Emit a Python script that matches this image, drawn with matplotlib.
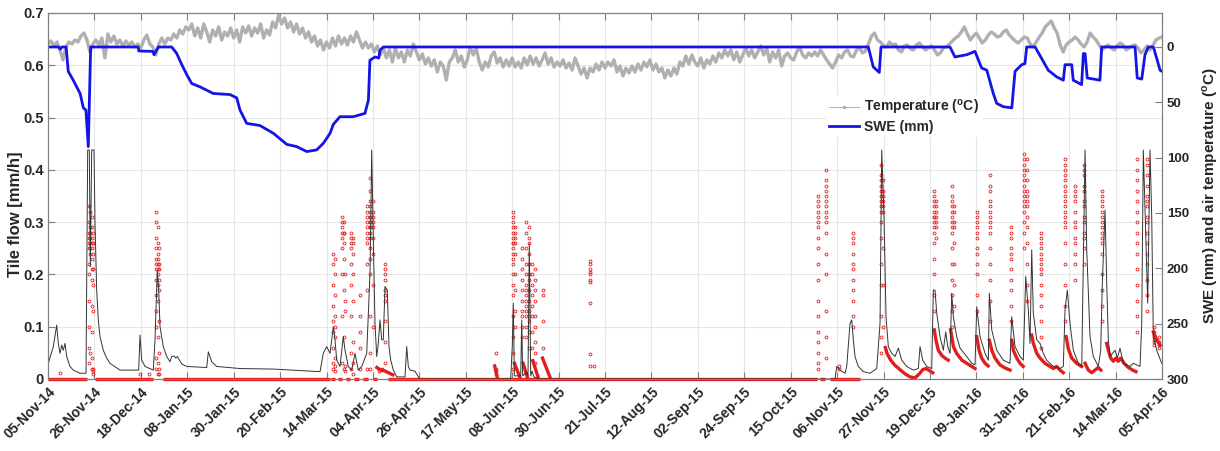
import numpy as np
import matplotlib
matplotlib.use("Agg")
import matplotlib.pyplot as plt
import matplotlib.transforms as mtransforms
from matplotlib.lines import Line2D

plt.rcParams["font.family"] = ["Liberation Sans", "DejaVu Sans"]
plt.rcParams["font.weight"] = "bold"
plt.rcParams["mathtext.fontset"] = "custom"
plt.rcParams["mathtext.rm"] = "Liberation Sans:bold"
plt.rcParams["mathtext.bf"] = "Liberation Sans:bold"

# x axis in days counted from 05-Nov-2014, last day 05-Apr-2016
n_days = 517
tick_labels = ["05-Nov-14", "26-Nov-14", "18-Dec-14", "08-Jan-15", "30-Jan-15",
               "20-Feb-15", "14-Mar-15", "04-Apr-15", "26-Apr-15", "17-May-15",
               "08-Jun-15", "30-Jun-15", "21-Jul-15", "12-Aug-15", "02-Sep-15",
               "24-Sep-15", "15-Oct-15", "06-Nov-15", "27-Nov-15", "19-Dec-15",
               "09-Jan-16", "31-Jan-16", "21-Feb-16", "14-Mar-16", "05-Apr-16"]

# air temperature (deg C), regular samples over the whole record
temp_c = [-2.7, -5.4, -0.9, -4.5, 2.7, 11.7, 0, -4.5, -2.7, -6.3, -4.5, -9.9, -12.6, -6.3, 4.5,
          -2.7, -6.3, -1.8, -8.1, 9.9, -11.7, -4.5, -9.9, -2.7, -6.3, -0.9, -5.4, -1.8, -4.5, 0,
          -2.7, 0.9, -6.3, -10.8, -2.7, 0, 7.2, -2.7, -8.1, -2.7, -8.1, -6.3, -11.7, -8.1, -15.4,
          -11.7, -18.1, -15.4, -20.8, -9.9, -17.2, -8.1, -20.8, -13.6, -4.5, -15.4, -9.9, -18.1,
          -6.3, -13.6, -9.9, -17.2, -8.1, -15.4, -4.5, -18.1, -12.6, -19.0, -9.9, -17.2, -12.6,
          -20.8, -8.1, -15.4, -10.8, -22.6, -17.2, -28.9, -20.8, -26.2, -17.2, -22.6, -13.6, -20.8,
          -11.7, -17.2, -8.1, -13.6, -4.5, -9.9, -0.9, -6.3, 2.7, -4.5, 0.9, -8.1, -0.9, -9.9, -2.7,
          -8.1, -1.8, -9.9, -4.5, -13.6, -6.3, 0.9, -4.5, 0.9, -2.7, 4.5, -0.9, 7.2, 0.9, 9.9, 2.7,
          13.6, 0.9, 9.9, 4.5, 13.6, 2.7, 8.1, -2.7, 4.5, 11.7, 6.3, 15.4, 9.9, 17.2, 11.7, 22.6, 13.6,
          17.2, 29.8, 13.6, 9.9, 2.7, 13.6, 8.1, 18.1, 11.7, 0, 7.2, 0.9, 13.6, 20.8, 13.6, 18.1, 8.1,
          4.5, 14.5, 9.9, 18.1, 11.7, 17.2, 9.9, 18.1, 13.6, 19.0, 9.9, 16.3, 8.1, 15.4, 9.9, 17.2,
          11.7, 5.4, 15.4, 9.9, 18.1, 13.6, 17.2, 11.7, 19.0, 14.5, 20.8, 9.9, 17.2, 24.4, 19.0, 28.0,
          19.0, 22.6, 15.4, 20.8, 13.6, 19.0, 13.6, 17.2, 11.7, 22.6, 17.2, 26.2, 19.0, 23.5, 17.2,
          22.6, 15.4, 20.8, 13.6, 18.1, 11.7, 20.8, 15.4, 22.6, 19.0, 28.0, 20.8, 26.2, 19.0, 24.4,
          13.6, 17.2, 8.1, 15.4, 7.2, 13.6, 17.2, 9.9, 19.0, 11.7, 15.4, 8.1, 13.6, 5.4, 9.9, 2.7, 8.1,
          2.7, 11.7, 4.5, 13.6, 7.2, 0.9, 8.1, 2.7, 9.9, 4.5, -0.9, 7.2, 0.9, 13.6, 4.5, 9.9, 2.7,
          17.2, 8.1, 5.4, 9.9, 11.7, 4.5, 0, 7.2, 9.9, 5.4, 8.1, 4.5, 8.1, 2.7, 7.2, 11.7, 15.4, 19.0,
          13.6, 7.2, 9.9, 4.5, 2.7, 8.1, 9.0, 2.7, 0.9, 5.4, 3.6, -2.7, -9.9, -12.6, -6.3, -4.5, -0.9,
          0, -4.5, -1.8, -2.7, 2.7, 4.5, -0.9, -1.8, 1.8, 2.7, -1.8, -3.6, 0, 2.7, 0.9, -0.9, 2.7, 7.2,
          5.4, 0.9, 0, -2.7, -5.4, -8.1, -9.9, -13.6, -18.1, -11.7, -6.3, -9.9, -12.6, -8.1, -3.6,
          -6.3, -10.8, -13.6, -11.7, -9.0, -9.9, -13.6, -15.4, -10.8, -8.1, -5.4, -3.6, -6.3, -9.0,
          -8.1, -2.7, 0, -4.5, -9.0, -12.6, -18.1, -20.8, -23.5, -17.2, -12.6, -1.8, 4.5, -1.8, -4.5,
          -6.3, -9.0, -6.3, -2.7, 0, -4.5, -12.6, -9.0, -6.3, -1.8, 2.7, 0, -1.8, 0.9, 2.7, -0.9, -3.6,
          -1.8, 2.7, 0.9, -0.9, -1.8, 0.9, 5.4, 2.7, -0.9, 2.7, -1.8, -6.3, -8.1, -9.0]

# snow water equivalent (mm)
swe_day = [0, 5, 5.6, 6.5, 8.4, 9.4, 11.7, 14.9, 16.4, 17.6, 18.7, 19.8, 41.9, 42.1, 48.7, 49.2,
           51.2, 57.4, 59.7, 62.1, 64.4, 66.7, 70.5, 76.7, 84.5, 87.6, 89.1, 92.2, 98.4, 104.6,
           110.8, 115.4, 120.1, 124.7, 127.8, 130.9, 132.4, 135.5, 141.7, 147.1, 148.7, 149.4,
           151.8, 153.5, 154.1, 155.6, 380.7, 383.0, 385.8, 386.6, 418.6, 420.9, 426.4, 430.2,
           433.3, 435.7, 438.7, 440.3, 443.4, 447.3, 448.8, 451.9, 453.4, 454.2, 458.1, 461.9,
           464.2, 468.1, 471.2, 472.0, 475.1, 475.8, 479.7, 480.5, 481.3, 482.3, 488.2, 489.0,
           504.5, 505.5, 507.6, 509.1, 510.7, 513.0, 514.5, 516.1, 517]
swe_mm = [0, 0, 2, 0, 0, 22, 30, 42, 55, 57, 90, 0, 0, 3.6, 4, 7,
          0, 0, 5.7, 16, 25, 33, 36, 42, 43, 46, 57, 69, 71, 78,
          88, 90, 94.5, 93, 87, 78, 70, 63, 63, 60, 48, 12,
          9, 10, 3, 0, 0, 18, 23, 0, 0, 9, 7, 4,
          19, 21, 42, 51, 54, 55, 22, 16, 15, 0, 0, 13,
          21, 27, 30, 16, 16, 30, 34, 6, 6, 28, 30, 0,
          0, 28, 29, 7, 0, 0, 10, 21, 22]

# tile flow, black line (mm/h)
flow_day = [0.14, 2.46, 4.04, 4.78, 5.57, 6.36, 7.10, 7.89, 8.68, 10.21, 11.74, 14.85, 17.64,
            18.42, 19.17, 19.63, 20.28, 21.35, 21.81, 22.60, 23.34, 24.13, 25.66, 27.24, 28.77,
            33.42, 42.09, 42.70, 43.49, 45.02, 48.87, 49.66, 50.73, 51.38, 51.98, 53.51, 55.09,
            56.62, 57.41, 58.48, 59.27, 60.01, 62.05, 64.37, 73.65, 74.40, 75.97, 78.29, 89.11,
            104.56, 126.24, 127.77, 129.35, 130.88, 132.41, 133.20, 133.99, 135.52, 137.05,
            137.84, 139.37, 140.95, 142.48, 144.01, 145.59, 147.91, 149.44, 150.23, 150.97,
            151.76, 152.55, 153.29, 154.08, 154.87, 155.61, 156.40, 157.47, 158.26, 159.05,
            160.26, 161.83, 163.36, 165.68, 166.47, 167.22, 168.00, 170.32, 171.86, 172.65,
            214.74, 215.49, 215.95, 216.41, 219.38, 219.85, 220.31, 222.17, 222.77, 223.37,
            224.02, 224.62, 225.55, 228.34, 365.25, 366.04, 367.57, 369.89, 370.68, 372.21,
            373.00, 373.74, 374.53, 376.06, 378.38, 381.49, 384.60, 386.14, 386.92, 387.99,
            388.92, 389.99, 391.57, 393.10, 394.63, 396.21, 398.53, 401.59, 403.91, 404.70,
            405.95, 407.81, 410.13, 410.87, 411.66, 412.45, 413.98, 415.51, 416.63, 417.56,
            418.63, 419.42, 420.16, 421.74, 423.27, 426.38, 428.70, 430.23, 431.02, 432.55,
            434.87, 436.40, 436.87, 437.98, 440.30, 443.36, 446.46, 447.25, 448.79, 451.11,
            452.64, 453.75, 454.96, 455.75, 456.54, 457.28, 458.86, 460.39, 461.92, 463.50,
            466.56, 469.67, 471.20, 471.99, 473.06, 474.31, 475.85, 478.17, 479.75, 481.28,
            482.07, 483.59, 485.13, 487.45, 488.56, 489.31, 490.56, 491.35, 492.09, 492.88,
            495.20, 496.27, 497.52, 499.05, 502.16, 503.69, 506.80, 507.59, 508.33, 510.37,
            511.44, 512.23, 512.97, 514.55, 516.87]
flow_val = [0.030, 0.062, 0.103, 0.068, 0.049, 0.065, 0.055, 0.068, 0.043, 0.024, 0.017, 0.011, 0.011,
            0.438, 0.438, 0.215, 0.438, 0.438, 0.298, 0.170, 0.113, 0.081, 0.055, 0.040, 0.030,
            0.017, 0.017, 0.084, 0.036, 0.024, 0.017, 0.075, 0.208, 0.170, 0.100, 0.062, 0.043,
            0.033, 0.043, 0.044, 0.040, 0.043, 0.029, 0.024, 0.022, 0.052, 0.033, 0.024, 0.020,
            0.019, 0.014, 0.049, 0.062, 0.049, 0.100, 0.075, 0.036, 0.024, 0.081,
            0.055, 0.024, 0.017, 0.049, 0.017, 0.024, 0.049, 0.202, 0.438, 0.266,
            0.106, 0.043, 0.068, 0.113, 0.075, 0.075, 0.177, 0.170, 0.062, 0.036,
            0.017, 0.004, 0.004, 0.004, 0.062, 0.024, 0.017, 0.015, 0.004, 0.0,
            0.0, 0.065, 0.145, 0.006, 0.006, 0.113, 0.006, 0.013, 0.006, 0.259,
            0.006, 0.015, 0.004, 0.0, 0.0, 0.024, 0.017, 0.011, 0.024, 0.106,
            0.113, 0.075, 0.043, 0.024, 0.014, 0.011, 0.020, 0.106, 0.438, 0.310,
            0.119, 0.062, 0.049, 0.043, 0.059, 0.036, 0.024, 0.017, 0.020, 0.062,
            0.036, 0.024, 0.020, 0.170, 0.170, 0.126, 0.081, 0.055, 0.090, 0.062,
            0.049, 0.164, 0.119, 0.081, 0.059, 0.043, 0.030, 0.027, 0.138, 0.081,
            0.049, 0.036, 0.164, 0.094, 0.055, 0.036, 0.030, 0.119, 0.062, 0.043,
            0.036, 0.196, 0.132, 0.068, 0.247, 0.126, 0.075, 0.068, 0.049, 0.036,
            0.024, 0.020, 0.024, 0.132, 0.170, 0.106, 0.055, 0.030, 0.024, 0.438,
            0.247, 0.081, 0.043, 0.024, 0.055, 0.183, 0.323, 0.183, 0.075, 0.043,
            0.055, 0.040, 0.059, 0.030, 0.024, 0.030, 0.024, 0.106, 0.438, 0.145,
            0.438, 0.310, 0.081, 0.055, 0.030]

# red points: stretches lying on zero, vertical clusters, recession tails
red_zero = [(0, 18.0), (21.8, 48.9), (53.4, 130.9), (131.5, 133.0), (134.5, 136.3),
            (138.3, 140.3), (142.2, 144.4), (146.2, 148.4), (151.0, 152.6), (157.8, 356.7),
            (358.3, 360.7), (362.9, 376.7)]
red_columns = [
    (5.6, [0.012]),
    (18.8, [0.33, 0.30, 0.28, 0.27, 0.26, 0.25, 0.22, 0.20, 0.15, 0.10, 0.06, 0.03]),
    (19.5, [0.32, 0.29, 0.28, 0.27, 0.26, 0.25, 0.24, 0.05]),
    (20.3, [0.31, 0.29, 0.27, 0.26, 0.25, 0.23, 0.21, 0.19, 0.14, 0.09, 0.04, 0.02]),
    (21.0, [0.28, 0.26, 0.24, 0.21, 0.18, 0.13, 0.02, 0.015, 0.01]),
    (42.7, [0.01]),
    (47.0, [0.01]),
    (50.2, [0.32, 0.30, 0.27, 0.25, 0.23, 0.22, 0.21, 0.19, 0.16, 0.13, 0.10, 0.04, 0.02]),
    (50.9, [0.29, 0.26, 0.24, 0.23, 0.22, 0.21, 0.20, 0.18, 0.15, 0.08, 0.03, 0.01]),
    (51.6, [0.25, 0.22, 0.21, 0.19, 0.17, 0.11, 0.05, 0.02, 0.01]),
    (132.4, [0.24, 0.22, 0.18, 0.14, 0.11, 0.09, 0.06, 0.03, 0.02]),
    (133.1, [0.23, 0.20, 0.16, 0.12, 0.10, 0.08, 0.04, 0.025, 0.015]),
    (136.6, [0.31, 0.30, 0.29, 0.28, 0.27, 0.25, 0.20, 0.12, 0.03]),
    (137.3, [0.30, 0.28, 0.28, 0.26, 0.23, 0.17, 0.08, 0.02]),
    (138.0, [0.20, 0.15, 0.13, 0.025, 0.015]),
    (140.8, [0.28, 0.27, 0.26, 0.25, 0.22, 0.18, 0.12, 0.05, 0.02]),
    (141.6, [0.27, 0.26, 0.24, 0.20, 0.15, 0.07, 0.03, 0.01]),
    (145.0, [0.16, 0.12, 0.09, 0.06, 0.02]),
    (148.2, [0.33, 0.32, 0.31, 0.30, 0.29, 0.28, 0.27, 0.26, 0.22, 0.17, 0.02]),
    (149.5, [0.385, 0.36, 0.34, 0.33, 0.32, 0.31, 0.31, 0.30, 0.30, 0.29, 0.29, 0.28, 0.27,
             0.25, 0.23, 0.20, 0.12, 0.05, 0.02]),
    (151.0, [0.34, 0.32, 0.31, 0.30, 0.29, 0.27, 0.24, 0.18, 0.10]),
    (153.5, [0.02, 0.015]),
    (155.0, [0.02, 0.018]),
    (156.5, [0.22, 0.21, 0.20, 0.19, 0.17, 0.16, 0.15, 0.11, 0.07, 0.03]),
    (208.0, [0.05, 0.02, 0.015, 0.01]),
    (215.8, [0.32, 0.31, 0.30, 0.29, 0.28, 0.27, 0.26, 0.26, 0.25, 0.24, 0.23, 0.22, 0.20,
             0.18, 0.16, 0.12, 0.08, 0.05, 0.02]),
    (216.8, [0.29, 0.28, 0.27, 0.26, 0.24, 0.20, 0.17, 0.13, 0.10]),
    (219.8, [0.25, 0.23, 0.21, 0.19, 0.17, 0.15, 0.13, 0.12, 0.10, 0.08]),
    (222.0, [0.30, 0.28, 0.25, 0.22, 0.20, 0.18, 0.17, 0.16, 0.15, 0.14, 0.13, 0.12, 0.10, 0.08]),
    (223.3, [0.29, 0.27, 0.26, 0.24, 0.22, 0.20, 0.19, 0.17, 0.15, 0.13, 0.12, 0.11, 0.09, 0.06]),
    (224.5, [0.22, 0.20, 0.18, 0.16, 0.14, 0.12, 0.09, 0.06]),
    (226.0, [0.21, 0.19, 0.17, 0.15, 0.12, 0.10, 0.07, 0.05, 0.03]),
    (229.8, [0.17, 0.16, 0.11, 0.06]),
    (251.7, [0.225, 0.22, 0.21, 0.205, 0.20, 0.19, 0.185, 0.145, 0.047, 0.025]),
    (253.5, [0.025]),
    (357.5, [0.35, 0.34, 0.33, 0.32, 0.31, 0.30, 0.29, 0.27, 0.25, 0.22, 0.19, 0.15, 0.12,
             0.09, 0.07, 0.05, 0.03, 0.02]),
    (361.2, [0.40, 0.38, 0.37, 0.36, 0.35, 0.34, 0.33, 0.32, 0.31, 0.30, 0.28, 0.24, 0.20,
             0.13, 0.08, 0.04]),
    (367.0, [0.02, 0.025]),
    (373.5, [0.28, 0.27, 0.26, 0.24, 0.22, 0.21, 0.19, 0.17, 0.15, 0.12, 0.10]),
    (386.5, [0.41, 0.39, 0.38, 0.37, 0.36, 0.35, 0.34, 0.33, 0.32, 0.30, 0.27, 0.22, 0.18,
             0.12, 0.08, 0.05]),
    (387.5, [0.38, 0.36, 0.35, 0.34, 0.33, 0.32, 0.25, 0.18, 0.10]),
    (411.3, [0.36, 0.35, 0.34, 0.33, 0.32, 0.31, 0.31, 0.30, 0.29, 0.28, 0.26, 0.23, 0.20,
             0.16, 0.13]),
    (412.2, [0.34, 0.33, 0.32, 0.31, 0.30, 0.29, 0.27]),
    (419.5, [0.37, 0.35, 0.34, 0.33, 0.32, 0.31, 0.30, 0.29, 0.28, 0.25, 0.22, 0.19, 0.16,
             0.13, 0.10]),
    (420.5, [0.33, 0.32, 0.30, 0.29, 0.26, 0.22, 0.18, 0.14]),
    (431.0, [0.32, 0.31, 0.30, 0.29, 0.28, 0.27, 0.25, 0.24, 0.22, 0.20, 0.16, 0.13]),
    (437.0, [0.39, 0.37, 0.36, 0.34, 0.33, 0.32, 0.31, 0.30, 0.29, 0.28, 0.25, 0.22, 0.19,
             0.15, 0.11]),
    (447.0, [0.29, 0.28, 0.27, 0.25, 0.24, 0.23, 0.21, 0.19, 0.17, 0.14, 0.11]),
    (453.0, [0.43, 0.42, 0.41, 0.40, 0.39, 0.38, 0.37, 0.36, 0.35, 0.34, 0.33, 0.32, 0.30,
             0.28, 0.25]),
    (454.5, [0.42, 0.40, 0.38, 0.36, 0.35, 0.34, 0.33, 0.31, 0.29, 0.26, 0.22, 0.18, 0.15]),
    (461.0, [0.28, 0.27, 0.26, 0.25, 0.24, 0.23, 0.22, 0.21, 0.20, 0.18, 0.16, 0.14, 0.11,
             0.08, 0.06]),
    (472.0, [0.42, 0.41, 0.40, 0.39, 0.38, 0.37, 0.36, 0.35, 0.34, 0.33, 0.32, 0.31, 0.30,
             0.29, 0.26, 0.22, 0.18, 0.14, 0.11]),
    (476.8, [0.37, 0.36, 0.35, 0.34, 0.32, 0.30, 0.29, 0.27, 0.26, 0.24, 0.22, 0.19]),
    (481.0, [0.41, 0.40, 0.39, 0.37, 0.36, 0.34, 0.33, 0.31, 0.30, 0.28, 0.27, 0.25, 0.22]),
    (489.0, [0.36, 0.35, 0.34, 0.33, 0.32, 0.31, 0.30, 0.29, 0.28, 0.27, 0.26, 0.24, 0.20,
             0.17, 0.14, 0.11]),
    (505.5, [0.42, 0.40, 0.38, 0.36, 0.34, 0.32, 0.30, 0.28, 0.26, 0.24, 0.21, 0.18, 0.15,
             0.12, 0.09]),
    (510.0, [0.42, 0.41, 0.39, 0.37, 0.35, 0.34, 0.33, 0.31, 0.30, 0.28, 0.26, 0.24, 0.22,
             0.19, 0.16, 0.13]),
    (513.5, [0.10, 0.09, 0.085, 0.08, 0.075, 0.07, 0.065]),
    (515.5, [0.08, 0.07, 0.065, 0.06]),
]
red_tails = [
    [(152.6, 0.022), (154.0, 0.018), (156.0, 0.016), (158.0, 0.012), (160.0, 0.008)],
    [(207.3, 0.025), (208.5, 0.003)],
    [(216.5, 0.030), (219.0, 0.003)],
    [(220.5, 0.030), (222.5, 0.003)],
    [(225.0, 0.035), (227.5, 0.003)],
    [(229.5, 0.040), (233.0, 0.003)],
    [(388.6, 0.060), (389.5, 0.048), (391.1, 0.036), (393.1, 0.026), (395.4, 0.018),
     (397.7, 0.010), (400.1, 0.004), (402.4, 0.002), (404.4, 0.010), (406.0, 0.018),
     (407.5, 0.020), (409.1, 0.016), (410.6, 0.012)],
    [(411.3, 0.094), (412.1, 0.074), (413.2, 0.055), (414.8, 0.045), (416.3, 0.040), (417.8, 0.036)],
    [(418.9, 0.094), (420.2, 0.062), (421.7, 0.049), (424.1, 0.036), (426.4, 0.030),
     (428.7, 0.024), (430.2, 0.020)],
    [(431.0, 0.081), (432.1, 0.055), (433.3, 0.040), (434.9, 0.030), (436.3, 0.025)],
    [(436.9, 0.074), (438.0, 0.055), (439.5, 0.040), (441.8, 0.027), (444.2, 0.021), (446.5, 0.017)],
    [(447.3, 0.074), (448.0, 0.055), (449.6, 0.040), (451.1, 0.030), (452.6, 0.024)],
    [(456.5, 0.084), (457.3, 0.068), (458.9, 0.049), (460.4, 0.040), (462.7, 0.030),
     (465.0, 0.024), (466.6, 0.020), (468.1, 0.024), (469.7, 0.017), (471.2, 0.012)],
    [(472.5, 0.081), (473.5, 0.058), (475.1, 0.040), (477.4, 0.030), (479.7, 0.024)],
    [(481.3, 0.030), (482.8, 0.017), (484.4, 0.012), (485.9, 0.017), (487.4, 0.022), (488.6, 0.017)],
    [(491.3, 0.068), (492.1, 0.055), (493.2, 0.040), (494.4, 0.034), (495.7, 0.040),
     (496.7, 0.034), (497.8, 0.040), (499.4, 0.030), (501.4, 0.022), (503.4, 0.017), (504.9, 0.014)],
    [(513.0, 0.090), (514.5, 0.075), (516.1, 0.065)],
]

RED = "#e01e1e"
GRAY = "#b0b0b0"
BLUE = "#1414e6"
AXC = "#7f7f7f"
TXT = "#262626"

fig = plt.figure(figsize=(12.2, 4.51), dpi=100)
ax = fig.add_axes([48 / 1220, 1 - 379 / 451, 1114 / 1220, 366 / 451])

# red points on the left axis
for s, e in red_zero:
    ax.plot([s, e], [0, 0], color=RED, lw=2.4, solid_capstyle="butt", clip_on=False, zorder=3)
for tail in red_tails:
    ax.plot([p[0] for p in tail], [p[1] for p in tail], color=RED, lw=2.4, zorder=3)
for d, vals in red_columns:
    ax.plot([d] * len(vals), vals, "o", ms=2.1, mfc="none", mec=RED, mew=0.6, zorder=3)

ax.plot(flow_day, flow_val, color="#333333", lw=0.7, zorder=4)

ax.set_xlim(0, n_days)
ax.set_ylim(0, 0.7)
ax.set_yticks(np.arange(0, 0.71, 0.1))
ax.set_yticklabels(["0", "0.1", "0.2", "0.3", "0.4", "0.5", "0.6", "0.7"])
ax.set_xticks(np.linspace(0, n_days, len(tick_labels)))
ax.set_xticklabels(tick_labels, rotation=45, ha="right", va="top", rotation_mode="anchor")
shift = mtransforms.ScaledTranslation(0.07, -0.02, fig.dpi_scale_trans)
for lab in ax.get_xticklabels():
    lab.set_transform(lab.get_transform() + shift)
ax.grid(True, color="#e6e6e6", lw=0.8)
ax.set_axisbelow(True)
ax.tick_params(axis="both", direction="in", length=5, color=AXC, labelcolor=TXT)
ax.tick_params(axis="x", top=True, labelsize=10, pad=4)
ax.tick_params(axis="y", right=False, labelsize=10.5, pad=3)
ax.set_ylabel("Tile flow [mm/h]", fontsize=12, fontweight="bold", color=TXT)
ax.yaxis.set_label_coords(-0.022, 0.45)

# snow and temperature on the right (reversed) axis
ax2 = ax.twinx()
temp_day = np.linspace(0, n_days, len(temp_c))
ax2.plot(temp_day, temp_c, color=GRAY, lw=2.4)
ax2.plot(swe_day, swe_mm, color=BLUE, lw=2.0)
ax2.set_ylim(300, -30.7)
ax2.set_yticks(range(0, 301, 50))
ax2.tick_params(axis="y", direction="in", length=5, color=AXC, labelcolor=TXT, labelsize=9.5)
ax2.set_ylabel("SWE (mm) and air temperature ($^{\\mathbf{o}}$C)", fontsize=11,
               fontweight="bold", color=TXT, labelpad=8)

for a in (ax, ax2):
    for sp in a.spines.values():
        sp.set_color(AXC)
        sp.set_linewidth(0.8)

handles = [Line2D([], [], color=GRAY, lw=0.7, marker=".", ms=3),
           Line2D([], [], color=BLUE, lw=2.0)]
leg = fig.legend(handles, ["Temperature ($^{\\mathbf{o}}$C)", "SWE (mm)"],
                 loc="upper left", bbox_to_anchor=(826 / 1220, 1 - 95 / 451),
                 borderaxespad=0, fontsize=10, handlelength=2.2, handletextpad=0.35,
                 labelspacing=0.2, frameon=True, framealpha=1, fancybox=False,
                 edgecolor="white", facecolor="white", borderpad=0.2)
for t in leg.get_texts():
    t.set_fontweight("bold")
    t.set_color(TXT)

fig.savefig("out.png", dpi=100)
